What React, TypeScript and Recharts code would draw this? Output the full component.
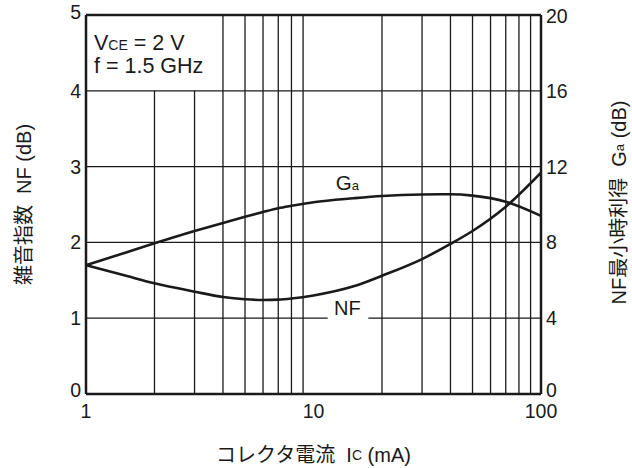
import React from "react";
import { ComposedChart, Line, XAxis, YAxis, ReferenceLine } from "recharts";

// collector current Ic (mA)
const current = [1, 1.5, 2, 3, 4, 5, 6, 7, 8, 10, 15, 20, 30, 40, 50, 70, 100];
// minimum noise figure NF (dB), left axis
const noiseFigure = [1.7, 1.56, 1.46, 1.35, 1.28, 1.25, 1.24, 1.245, 1.26, 1.3, 1.42, 1.56, 1.78, 1.98, 2.15, 2.47, 2.92];
// associated gain Ga (dB), right axis
const gain = [6.8, 7.47, 7.95, 8.6, 9.03, 9.35, 9.6, 9.8, 9.93, 10.12, 10.33, 10.45, 10.53, 10.54, 10.47, 10.15, 9.4];

const xTicks = [1, 10, 100];
const nfTicks = [0, 1, 2, 3, 4, 5];
const gaTicks = [0, 4, 8, 12, 16, 20];
const gridX = [2, 3, 4, 5, 6, 7, 8, 9, 20, 30, 40, 50, 60, 70, 80, 90];
const gridY = [1, 2, 3, 4];
// grid lines left of this stop under the condition box
const boxRight = 4;
const boxBottom = 4;

const data = current.map((ic, i) => ({ ic, nf: noiseFigure[i], ga: gain[i] }));

const FONT = "'Liberation Sans', Arial, 'Noto Sans CJK JP', sans-serif";
const INK = "#1a1a1a";

// small vertical nudges for the labels at the ends of the axes
const nfTickShift: Record<number, number> = { 0: -4, 5: -3 };
const gaTickShift: Record<number, number> = { 0: -4, 20: 1 };

const NumTick = (props: any) => {
  const { x, y, payload, textAnchor, shift } = props;
  const dy = (shift && shift[payload.value]) || 0;
  return (
    <text x={x} y={y + dy} textAnchor={textAnchor} dominantBaseline="central"
      fontSize={19.5} fontFamily={FONT} fill={INK}>
      {payload.value}
    </text>
  );
};

const LeftTitle = (props: any) => {
  const vb = props.viewBox;
  const x = vb.x + 24;
  const y = vb.y + vb.height / 2;
  return (
    <text x={x} y={y} transform={`rotate(-90, ${x}, ${y})`} textAnchor="middle" dominantBaseline="central"
      fontSize={20} fontFamily={FONT} fill={INK} style={{ whiteSpace: "pre" }}>
      雑音指数  NF (dB)
    </text>
  );
};

const RightTitle = (props: any) => {
  const vb = props.viewBox;
  const x = vb.x + 78;
  const y = vb.y + vb.height / 2 - 2;
  return (
    <text x={x} y={y} transform={`rotate(-90, ${x}, ${y})`} textAnchor="middle" dominantBaseline="central"
      fontSize={20} fontFamily={FONT} fill={INK} style={{ whiteSpace: "pre" }}>
      NF最小時利得  G<tspan fontSize={13}>a</tspan> (dB)
    </text>
  );
};

const BottomTitle = (props: any) => {
  const vb = props.viewBox;
  return (
    <text x={vb.x + vb.width / 2} y={vb.y + 61} textAnchor="middle" dominantBaseline="central"
      fontSize={20} fontFamily={FONT} fill={INK} style={{ whiteSpace: "pre" }}>
      コレクタ電流  I<tspan fontSize={14}>C</tspan> (mA)
    </text>
  );
};

const tickStyle = { fill: INK, fontSize: 19.5, fontFamily: FONT };

export default function App() {
  return (
    <div style={{ position: "absolute", left: 0, top: 0, width: 632, height: 468, background: "#fff" }}>
      <ComposedChart width={632} height={468} data={data} margin={{ top: 15, right: 0, bottom: 0, left: 0 }}>
        <XAxis dataKey="ic" type="number" scale="log" domain={[1, 100]} ticks={xTicks} allowDataOverflow
          height={74} tickSize={0} tickMargin={10} tick={tickStyle}
          axisLine={{ stroke: INK, strokeWidth: 2.5 }} label={<BottomTitle />} />
        <YAxis yAxisId="nf" domain={[0, 5]} ticks={nfTicks} width={86} tickSize={0} tickMargin={5}
          tick={<NumTick shift={nfTickShift} />} axisLine={{ stroke: INK, strokeWidth: 2.5 }} label={<LeftTitle />} />
        <YAxis yAxisId="ga" orientation="right" domain={[0, 20]} ticks={gaTicks} width={91} tickSize={0}
          tickMargin={5} tick={<NumTick shift={gaTickShift} />} axisLine={{ stroke: INK, strokeWidth: 2.5 }}
          label={<RightTitle />} />

        {gridX.map((x) => (
          <ReferenceLine key={`vx-${x}`} yAxisId="nf" stroke={INK} strokeWidth={1.3}
            segment={[{ x, y: 0 }, { x, y: x < boxRight ? boxBottom : 5 }]} />
        ))}
        {gridY.map((y) => (
          <ReferenceLine key={`hy-${y}`} yAxisId="nf" y={y} stroke={INK} strokeWidth={1.3} />
        ))}
        <ReferenceLine yAxisId="nf" y={5} stroke={INK} strokeWidth={2.5} />

        <Line yAxisId="nf" dataKey="nf" type="monotone" stroke={INK} strokeWidth={2.6} dot={false} isAnimationActive={false} />
        <Line yAxisId="ga" dataKey="ga" type="monotone" stroke={INK} strokeWidth={2.6} dot={false} isAnimationActive={false} />
      </ComposedChart>

      <svg width={632} height={468} style={{ position: "absolute", left: 0, top: 0, pointerEvents: "none" }}
        fontFamily={FONT} fill={INK}>
        <text x={94} y={50} fontSize={21.5}>
          V<tspan fontSize={14}>CE</tspan> = 2 V
        </text>
        <text x={94} y={72.7} fontSize={21.5}>f = 1.5 GHz</text>
        <text x={335.7} y={190} fontSize={20.5}>
          G<tspan fontSize={13}>a</tspan>
        </text>
        <rect x={327.7} y={311} width={40.6} height={14} fill="#fff" />
        <text x={334} y={315} fontSize={20}>NF</text>
      </svg>
    </div>
  );
}
